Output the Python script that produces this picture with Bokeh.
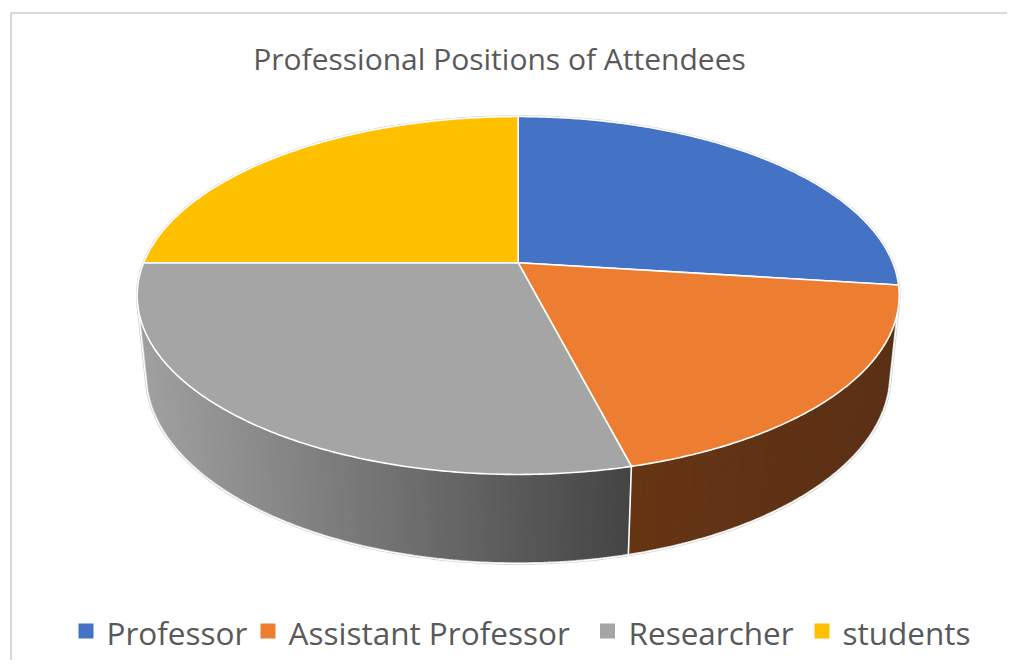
import numpy as np
from bokeh.plotting import figure
from bokeh.models import Range1d
from bokeh.embed import file_html
from bokeh.resources import INLINE
from bokeh.core.properties import value

# ---------------- data ----------------
title_text = "Professional Positions of Attendees"
categories = ["Professor", "Assistant Professor", "Researcher", "students"]
counts = [27, 19, 29, 25]
top_colors = ["#4472C4", "#ED7D31", "#A5A5A5", "#FFC000"]
# side-wall shading (left colour, right colour) for each slice
wall_colors = [("#2B4C84", "#233E6C"), ("#663514", "#5B3016"),
               ("#A2A2A2", "#444444"), ("#A57D00", "#876600")]

# ---------------- layout / style ----------------
FONT = "Open Sans"
TEXT_COLOR = "#595959"
CX, CY = 517.7, 262.3          # screen position of the pie centre
ALPHA = np.radians(27.5)       # elevation of the view
DIST = 4.855                   # camera distance (in radii)
FOCAL = 1818.7                 # focal length in px
THICK = 0.2397                 # thickness of the pie (in radii)

legend_sq_x = [85.5, 267.5, 607.0, 821.5]
legend_lab_x = [106, 288, 628, 842]
legend_sq_y = 630.5
legend_base_y = 631.5
title_base_y = 58.0

p = figure(width=1007, height=660, x_range=Range1d(0, 1007), y_range=Range1d(660, 0),
           output_backend="svg", toolbar_location=None, min_border=0,
           x_axis_location=None, y_axis_location=None)
p.grid.visible = False
p.outline_line_color = None
p.background_fill_color = "white"
p.border_fill_color = "white"


def proj(theta_deg, y):
    t = np.radians(np.asarray(theta_deg, dtype=float))
    u = np.sin(t)
    v = -np.cos(t)
    d = DIST - (y * np.sin(ALPHA) + v * np.cos(ALPHA))
    yc = y * np.cos(ALPHA) - v * np.sin(ALPHA)
    return CX + FOCAL * u / d, CY - FOCAL * yc / d


total = float(sum(counts))
bounds = np.concatenate([[0.0], np.cumsum(counts) / total * 360.0])

# visible part of the outer wall
vis_lo = np.degrees(np.arccos(-1.0 / (DIST * np.cos(ALPHA))))
vis_hi = 360.0 - vis_lo

# chart border
p.multi_line(xs=[[10, 1007], [10.5, 10.5]], ys=[[12.5, 12.5], [12, 660]],
             line_color="#D9D9D9", line_width=2)


def hex2rgb(h):
    h = h.lstrip("#")
    return np.array([int(h[i:i + 2], 16) for i in (0, 2, 4)], dtype=float)


def rgb2hex(c):
    c = np.clip(np.round(c), 0, 255).astype(int)
    return "#%02x%02x%02x" % tuple(c)


# ---- side walls ----
bxs, bys, bcs = [], [], []
wxs, wys, wcs = [], [], []
for i in range(len(counts)):
    a0 = max(bounds[i], vis_lo)
    a1 = min(bounds[i + 1], vis_hi)
    if a0 >= a1:
        continue
    n = int(np.ceil((a1 - a0) / 0.6))
    th = np.linspace(a0, a1, n + 1)
    tx, ty = proj(th, 0.0)
    bx, by = proj(th, -THICK)
    cl, cr = hex2rgb(wall_colors[i][0]), hex2rgb(wall_colors[i][1])
    bxs.append(list(tx) + list(bx[::-1]))
    bys.append(list(ty) + list(by[::-1]))
    bcs.append(rgb2hex(0.5 * (cl + cr)))
    xmin, xmax = min(tx.min(), bx.min()), max(tx.max(), bx.max())
    for j in range(n):
        xm = 0.25 * (tx[j] + tx[j + 1] + bx[j] + bx[j + 1])
        f = (xm - xmin) / (xmax - xmin)
        wxs.append([tx[j], tx[j + 1], bx[j + 1], bx[j]])
        wys.append([ty[j], ty[j + 1], by[j + 1], by[j]])
        wcs.append(rgb2hex(cl + (cr - cl) * f))
p.patches(xs=bxs, ys=bys, fill_color=bcs, line_color=None)
p.patches(xs=wxs, ys=wys, fill_color=wcs, line_color=wcs, line_width=1.0)

# wall separators
sxs, sys_ = [], []
for b in bounds:
    if vis_lo < b < vis_hi:
        x0, y0 = proj(b, 0.0)
        x1, y1 = proj(b, -THICK)
        sxs.append([float(x0), float(x1)])
        sys_.append([float(y0), float(y1)])
p.multi_line(xs=sxs, ys=sys_, line_color="white", line_width=1.6)

# wall silhouette
th = np.linspace(vis_hi, vis_lo, 300)
bx, by = proj(th, -THICK)
lx0, ly0 = proj(vis_hi, 0.0)
rx0, ry0 = proj(vis_lo, 0.0)
sil_x = [float(lx0)] + list(bx) + [float(rx0)]
sil_y = [float(ly0)] + list(by) + [float(ry0)]
p.line(sil_x, sil_y, line_color="#CFCFCF", line_width=2.6)
p.line(sil_x, sil_y, line_color="white", line_width=1.2)

# back rim halo of the top face
th = np.linspace(vis_hi - 3, 360 + vis_lo + 3, 400)
hx, hy = proj(th, 0.0)
p.line(list(hx), list(hy), line_color="#D2D2D2", line_width=2.6)

# ---- top faces ----
txs, tys = [], []
for i in range(len(counts)):
    n = max(2, int(np.ceil((bounds[i + 1] - bounds[i]) / 0.5)))
    th = np.linspace(bounds[i], bounds[i + 1], n + 1)
    ax, ay = proj(th, 0.0)
    txs.append([CX] + list(ax))
    tys.append([CY] + list(ay))
p.patches(xs=txs, ys=tys, fill_color=top_colors, line_color="white",
          line_width=1.6, line_join="round")

# ---- title ----
p.text(x=[499], y=[title_base_y], text=[title_text], text_font=value(FONT),
       text_font_size="30px", text_color=TEXT_COLOR, text_align="center",
       text_baseline="alphabetic")

# ---- legend ----
p.rect(x=legend_sq_x, y=[legend_sq_y] * 4, width=15, height=15,
       fill_color=top_colors, line_color=None)
p.text(x=legend_lab_x, y=[legend_base_y] * 4, text=categories, text_font=value(FONT),
       text_font_size="31.5px", text_color=TEXT_COLOR, text_align="left",
       text_baseline="alphabetic")

open("out.html", "w").write(file_html(p, INLINE))
